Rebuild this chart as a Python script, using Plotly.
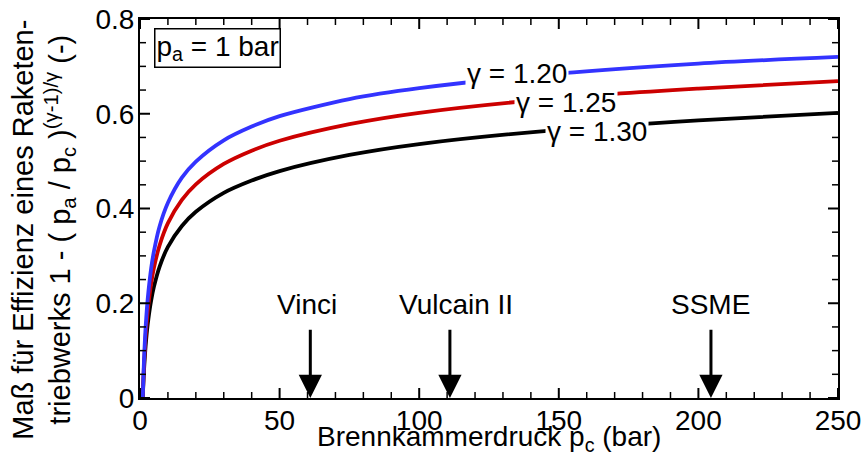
import plotly.graph_objects as go

# Chamber pressure p_c (bar)
pc = [1, 1.1, 1.2, 1.35, 1.5, 1.75, 2, 2.5, 3, 4, 5, 7, 10, 15, 20, 30, 40, 50, 75, 100, 150, 200, 250]

# Efficiency measure
eff_blue = [0, 0.022, 0.041, 0.067, 0.089, 0.121, 0.148, 0.191, 0.224, 0.274, 0.310, 0.362, 0.412,
            0.465, 0.499, 0.544, 0.573, 0.595, 0.631, 0.654, 0.685, 0.706, 0.720]
eff_red = [0, 0.019, 0.036, 0.058, 0.078, 0.106, 0.129, 0.167, 0.197, 0.242, 0.275, 0.322, 0.369,
           0.418, 0.451, 0.494, 0.522, 0.543, 0.578, 0.602, 0.633, 0.653, 0.669]
eff_black = [0, 0.016, 0.030, 0.049, 0.065, 0.089, 0.109, 0.142, 0.167, 0.206, 0.235, 0.277, 0.319,
             0.363, 0.393, 0.433, 0.459, 0.479, 0.513, 0.536, 0.566, 0.586, 0.602]

series_names = ["γ = 1.20", "γ = 1.25", "γ = 1.30"]
series_colors = ["#3333ff", "#cc0000", "#000000"]
label_x = [135, 152.6, 163.7]
label_y = [0.684, 0.623, 0.562]

engines = ["Vinci", "Vulcain II", "SSME"]
engine_pc = [61, 111, 204.5]
engine_label_x = [59.8, 113.3, 204.5]

x_ticks = [0, 50, 100, 150, 200, 250]
x_minor = [10, 20, 30, 40, 60, 70, 80, 90, 110, 120, 130, 140, 160, 170, 180, 190, 210, 220, 230, 240]
y_ticks = [0, 0.2, 0.4, 0.6, 0.8]
y_ticktext = ["0", "0.2", "0.4", "0.6", "0.8"]
y_minor = [0.05, 0.1, 0.15, 0.25, 0.3, 0.35, 0.45, 0.5, 0.55, 0.65, 0.7, 0.75]

X_RANGE = [0, 250]
Y_RANGE = [0, 0.8]

FONT = "Liberation Sans, Arial, Helvetica, sans-serif"
FS = 28

fig = go.Figure()
for name, ys, col in [(series_names[2], eff_black, series_colors[2]),
                      (series_names[1], eff_red, series_colors[1]),
                      (series_names[0], eff_blue, series_colors[0])]:
    fig.add_trace(go.Scatter(x=pc, y=ys, mode="lines", name=name,
                             line=dict(color=col, width=3.8, shape="spline", smoothing=0.8),
                             showlegend=False, hoverinfo="skip"))

annotations = []
for name, lx, ly in zip(series_names, label_x, label_y):
    annotations.append(dict(x=lx, y=ly, xref="x", yref="y", text=name, showarrow=False,
                            font=dict(size=FS, color="black", family=FONT),
                            bgcolor="white", borderpad=1))

for name, ex, lx in zip(engines, engine_pc, engine_label_x):
    annotations.append(dict(x=lx, y=0.197, xref="x", yref="y", text=name, showarrow=False,
                            font=dict(size=FS, color="black", family=FONT),
                            xanchor="center", yanchor="middle"))
    annotations.append(dict(x=ex, y=0, xref="x", yref="y", ax=ex, ay=0.147,
                            axref="x", ayref="y", text="", showarrow=True,
                            arrowhead=2, arrowwidth=3, arrowsize=1.55, arrowcolor="black",
                            standoff=0, startstandoff=0))

annotations.append(dict(x=0.02, y=0.975, xref="paper", yref="paper", xanchor="left", yanchor="top",
                        text="p<sub>a</sub> = 1 bar", showarrow=False,
                        font=dict(size=FS, color="black", family=FONT),
                        bordercolor="black", borderwidth=1.5, borderpad=1, bgcolor="white"))

annotations.append(dict(x=0.5, y=-0.108, xref="paper", yref="paper", xanchor="center", yanchor="middle",
                        text="Brennkammerdruck p<sub>c</sub> (bar)", showarrow=False,
                        font=dict(size=FS, color="black", family=FONT)))

annotations.append(dict(x=-0.138, y=0.443, xref="paper", yref="paper", xanchor="center", yanchor="middle",
                        textangle=-90,
                        text="Maß für Effizienz eines Raketen-<br>triebwerks 1 - ( p<sub>a</sub> / p<sub>c</sub> )<sup>(γ-1)/γ</sup> (-)",
                        showarrow=False,
                        font=dict(size=29, color="black", family=FONT)))

# Inward tick marks on all four sides, placed at the tick values with pixel lengths
shapes = []
def x_tick_marks(vals, length, width):
    for v in vals:
        for anchor, sign in ((Y_RANGE[0], 1), (Y_RANGE[1], -1)):
            shapes.append(dict(type="line", xref="x", yref="y", ysizemode="pixel", yanchor=anchor,
                               x0=v, x1=v, y0=0, y1=sign * length,
                               line=dict(color="black", width=width), layer="above"))

def y_tick_marks(vals, length, width):
    for v in vals:
        for anchor, sign in ((X_RANGE[0], 1), (X_RANGE[1], -1)):
            shapes.append(dict(type="line", xref="x", yref="y", xsizemode="pixel", xanchor=anchor,
                               y0=v, y1=v, x0=0, x1=sign * length,
                               line=dict(color="black", width=width), layer="above"))

x_tick_marks(x_ticks, 10, 2)
x_tick_marks(x_minor, 6, 1.5)
y_tick_marks(y_ticks, 10, 2)
y_tick_marks(y_minor, 6, 1.5)

label_axis = dict(showgrid=False, zeroline=False, showline=True, linecolor="black", linewidth=2,
                  mirror=True, ticks="", tickfont=dict(size=FS, color="black", family=FONT),
                  automargin=False)

fig.update_layout(
    width=864, height=459,
    margin=dict(l=140, r=26, t=19, b=61, autoexpand=False),
    paper_bgcolor="white", plot_bgcolor="white",
    showlegend=False,
    annotations=annotations,
    shapes=shapes,
    xaxis=dict(range=X_RANGE, tickvals=x_ticks, ticklabelstandoff=-4, **label_axis),
    yaxis=dict(range=Y_RANGE, tickvals=y_ticks, ticktext=y_ticktext, ticklabelstandoff=-2, **label_axis),
)

fig.write_html("out.html")
